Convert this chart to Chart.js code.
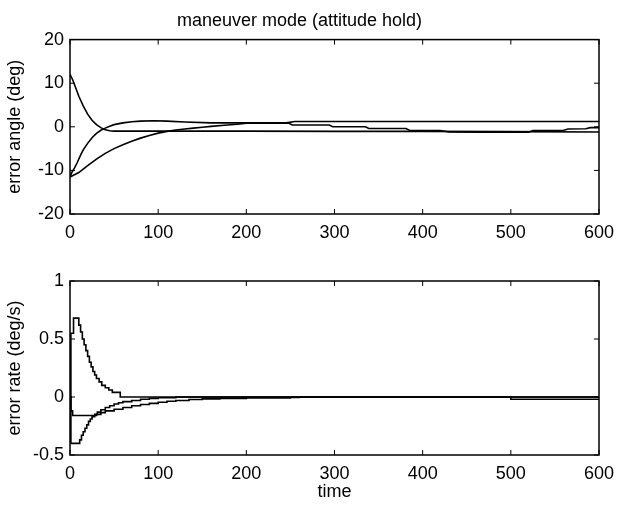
<!DOCTYPE html>
<html>
<head>
<meta charset="utf-8">
<script src="https://cdn.jsdelivr.net/npm/chart.js@4.4.1/dist/chart.umd.min.js"></script>
<style>
  body { margin: 0; background: #fff; }
  #wrap { position: relative; width: 629px; height: 505px; }
  #angleChart { position: absolute; left: 0; top: 0; }
  #rateChart { position: absolute; left: 0; top: 250px; }
</style>
</head>
<body>
<div id="wrap">
  <canvas id="angleChart" width="629" height="250"></canvas>
  <canvas id="rateChart" width="629" height="255"></canvas>
</div>
<script>
// shared axis ticks
const timeTicks = [0, 100, 200, 300, 400, 500, 600];
const angleTicks = [-20, -10, 0, 10, 20];
const rateTicks = [-0.5, 0, 0.5, 1];

// error angle (deg)
const angleTime1 = [0, 3, 6, 10, 15, 20, 25, 30, 35, 40, 45, 50, 100, 200, 300, 400, 500, 600];
const angleErr1 = [12, 10.8, 9.2, 7, 4.8, 2.9, 1.5, 0.5, -0.2, -0.7, -0.9, -1, -1, -1, -1.05, -1.05, -1.1, -1.2];

const angleTime2 = [0, 2, 5, 8, 12, 15, 20, 25, 30, 35, 40, 45, 50, 60, 70, 80, 95, 110, 130, 160, 200, 245, 255, 300, 400, 500, 600];
const angleErr2 = [-11.5, -10.5, -9.5, -8.3, -6.5, -5.3, -3.8, -2.5, -1.5, -0.8, -0.3, 0.15, 0.5, 0.9, 1.15, 1.3, 1.4, 1.3, 1.1, 0.9, 0.9, 0.9, 1.2, 1.2, 1.2, 1.2, 1.2];

const angleTime3 = [0, 5, 10, 20, 30, 40, 50, 60, 70, 80, 90, 100, 110, 120, 130, 140, 150, 160, 175, 190, 200, 248, 252, 294, 298, 335, 339, 381, 385, 420, 430, 465, 520, 525, 560, 565, 585, 590, 600];
const angleErr3 = [-11.5, -11, -10.5, -8.9, -7.4, -6.1, -5, -4.1, -3.3, -2.6, -2, -1.45, -1.05, -0.75, -0.5, -0.3, -0.1, 0.1, 0.35, 0.6, 0.8, 0.85, 0.4, 0.4, 0, 0, -0.4, -0.4, -0.8, -0.85, -1.2, -1.25, -1.25, -0.85, -0.8, -0.5, -0.45, -0.2, -0.2];

// error rate (deg/s) (held values, stairs)
const rateTime1 = [0, 1, 4, 10, 12, 14, 16, 18, 20, 22, 24, 26, 28, 30, 33, 36, 40, 44, 48, 57, 600];
const rateErr1 = [0, 0.55, 0.68, 0.62, 0.56, 0.5, 0.45, 0.4, 0.35, 0.3, 0.26, 0.22, 0.19, 0.16, 0.13, 0.1, 0.08, 0.06, 0.04, 0, 0];

const rateTime2 = [0, 1, 11, 13, 15, 17, 19, 21, 23, 25, 28, 31, 35, 40, 45, 50, 55, 60, 70, 80, 90, 100, 120, 600];
const rateErr2 = [0, -0.4, -0.37, -0.33, -0.3, -0.27, -0.24, -0.21, -0.19, -0.17, -0.15, -0.13, -0.11, -0.09, -0.075, -0.06, -0.05, -0.04, -0.03, -0.02, -0.012, -0.006, 0, 0];

const rateTime3 = [0, 1, 3, 27, 30, 35, 40, 50, 60, 70, 80, 90, 100, 110, 120, 135, 150, 170, 200, 250, 260, 500, 600];
const rateErr3 = [0, -0.12, -0.16, -0.16, -0.15, -0.135, -0.12, -0.105, -0.09, -0.075, -0.065, -0.055, -0.045, -0.037, -0.03, -0.022, -0.016, -0.012, -0.008, -0.004, 0, -0.02, -0.02];

const toPoints = (xs, ys) => xs.map((x, i) => ({ x: x, y: ys[i] }));
const FONT = "'Liberation Sans', Arial, Helvetica, sans-serif";

// MATLAB style box with inward tick marks on all four sides
const boxPlugin = {
  id: "box",
  afterDraw(chart) {
    const { ctx, chartArea: a, scales } = chart;
    const len = 5;
    ctx.save();
    ctx.strokeStyle = "#000";
    ctx.lineWidth = 1.5;
    ctx.strokeRect(a.left, a.top, a.right - a.left, a.bottom - a.top);
    ctx.lineWidth = 1;
    ctx.beginPath();
    scales.x.ticks.forEach((t) => {
      const px = scales.x.getPixelForValue(t.value);
      ctx.moveTo(px, a.bottom);
      ctx.lineTo(px, a.bottom - len);
      ctx.moveTo(px, a.top);
      ctx.lineTo(px, a.top + len);
    });
    scales.y.ticks.forEach((t) => {
      const py = scales.y.getPixelForValue(t.value);
      ctx.moveTo(a.left, py);
      ctx.lineTo(a.left + len, py);
      ctx.moveTo(a.right, py);
      ctx.lineTo(a.right - len, py);
    });
    ctx.stroke();
    ctx.restore();
  },
};

function makeLine(points, stepped) {
  return {
    data: points,
    borderColor: "#000",
    borderWidth: 1.6,
    pointRadius: 0,
    fill: false,
    stepped: stepped, // true = hold previous value, like MATLAB stairs
  };
}

function makeChart(id, datasets, opts) {
  return new Chart(document.getElementById(id).getContext("2d"), {
    type: "line",
    data: { datasets: datasets },
    options: {
      responsive: false,
      animation: false,
      layout: { padding: { left: 0, right: 30, top: opts.padTop, bottom: 0 } },
      plugins: {
        legend: { display: false },
        tooltip: { enabled: false },
        title: opts.title,
      },
      scales: {
        x: {
          type: "linear",
          min: timeTicks[0],
          max: timeTicks[timeTicks.length - 1],
          afterBuildTicks: (s) => { s.ticks = timeTicks.map((v) => ({ value: v })); },
          grid: { display: false, drawTicks: false },
          border: { display: false },
          ticks: { color: "#000", padding: 8, font: { family: FONT, size: 18 }, callback: (v) => String(v) },
          title: opts.xTitle,
          afterFit: (s) => { s.height = opts.xHeight; },
        },
        y: {
          min: opts.yTicks[0],
          max: opts.yTicks[opts.yTicks.length - 1],
          afterBuildTicks: (s) => { s.ticks = opts.yTicks.map((v) => ({ value: v })); },
          grid: { display: false, drawTicks: false },
          border: { display: false },
          ticks: { color: "#000", padding: 6, font: { family: FONT, size: 18 }, callback: (v) => String(v) },
          title: {
            display: true,
            text: opts.yLabel,
            color: "#000",
            font: { family: FONT, size: 18 },
            padding: { top: 4, bottom: 4 },
          },
          afterFit: (s) => { s.width = 70; },
        },
      },
    },
    plugins: [boxPlugin],
  });
}

makeChart("angleChart", [
  makeLine(toPoints(angleTime1, angleErr1), false),
  makeLine(toPoints(angleTime2, angleErr2), false),
  makeLine(toPoints(angleTime3, angleErr3), false),
], {
  padTop: 0,
  xHeight: 36,
  yTicks: angleTicks,
  yLabel: "error angle (deg)",
  xTitle: { display: false },
  title: {
    display: true,
    text: "maneuver mode (attitude hold)",
    color: "#000",
    font: { family: FONT, size: 18, weight: "normal" },
    padding: { top: 10, bottom: 8 },
  },
});

makeChart("rateChart", [
  makeLine(toPoints(rateTime1, rateErr1), true),
  makeLine(toPoints(rateTime2, rateErr2), true),
  makeLine(toPoints(rateTime3, rateErr3), true),
], {
  padTop: 31,
  xHeight: 50,
  yTicks: rateTicks,
  yLabel: "error rate (deg/s)",
  xTitle: {
    display: true,
    text: "time",
    color: "#000",
    font: { family: FONT, size: 18 },
    padding: { top: 0, bottom: 2 },
  },
  title: { display: false },
});
</script>
</body>
</html>
